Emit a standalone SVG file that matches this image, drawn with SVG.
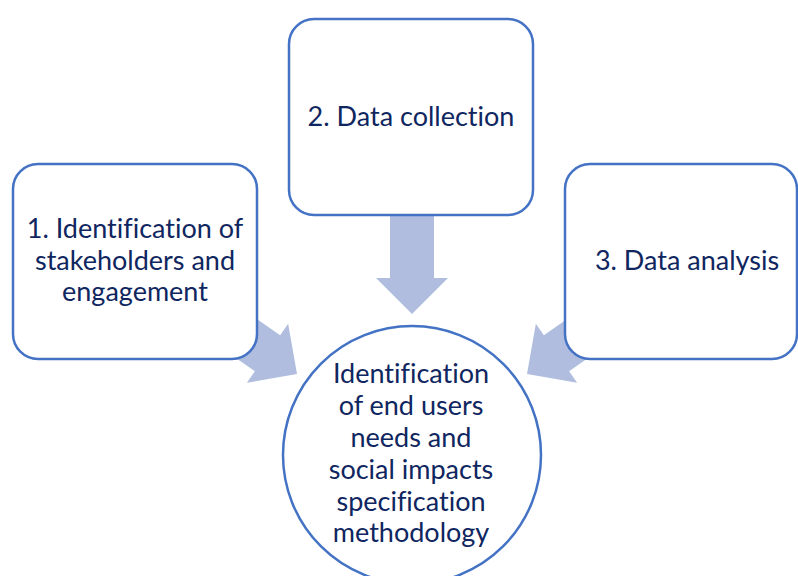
<svg xmlns="http://www.w3.org/2000/svg" width="798" height="576" viewBox="0 0 798 576">
  <style>
    .box { fill: #ffffff; stroke: #4472C4; stroke-width: 2.5; }
    .arrow { fill: #B0BDDF; }
    .label { font-family: Lato, "Liberation Sans", sans-serif; font-size: 27px; fill: #0F2660; text-anchor: middle; font-variant-ligatures: none; }
  </style>
  <defs>
    <!-- block arrow pointing along +x, tip at origin -->
    <path id="blockArrow" d="M -130 -22 L -36 -22 L -36 -36 L 0 0 L -36 36 L -36 22 L -130 22 Z"/>
  </defs>
  <rect width="798" height="576" fill="#ffffff"/>

  <g id="connectors">
    <use href="#blockArrow" class="arrow" transform="translate(412,314) rotate(90)"/>
    <use href="#blockArrow" class="arrow" transform="translate(297,374) rotate(35)"/>
    <use href="#blockArrow" class="arrow" transform="translate(527,374) rotate(145)"/>
  </g>

  <g id="node-stakeholders">
    <rect class="box" x="13" y="164" width="244" height="195" rx="25"/>
    <text class="label" x="135" y="238">1. Identification of</text>
    <text class="label" x="135" y="270">stakeholders and</text>
    <text class="label" x="135" y="301">engagement</text>
  </g>

  <g id="node-collection">
    <rect class="box" x="289" y="19" width="244" height="196" rx="25"/>
    <text class="label" x="411" y="126">2. Data collection</text>
  </g>

  <g id="node-analysis">
    <rect class="box" x="565" y="164" width="232" height="195" rx="25"/>
    <text class="label" x="687" y="270">3. Data analysis</text>
  </g>

  <g id="node-methodology">
    <circle class="box" cx="412" cy="455" r="129"/>
    <text class="label" x="411" y="383">Identification</text>
    <text class="label" x="411" y="415">of end users</text>
    <text class="label" x="411" y="447">needs and</text>
    <text class="label" x="411" y="479">social impacts</text>
    <text class="label" x="411" y="511">specification</text>
    <text class="label" x="411" y="542">methodology</text>
  </g>
</svg>
